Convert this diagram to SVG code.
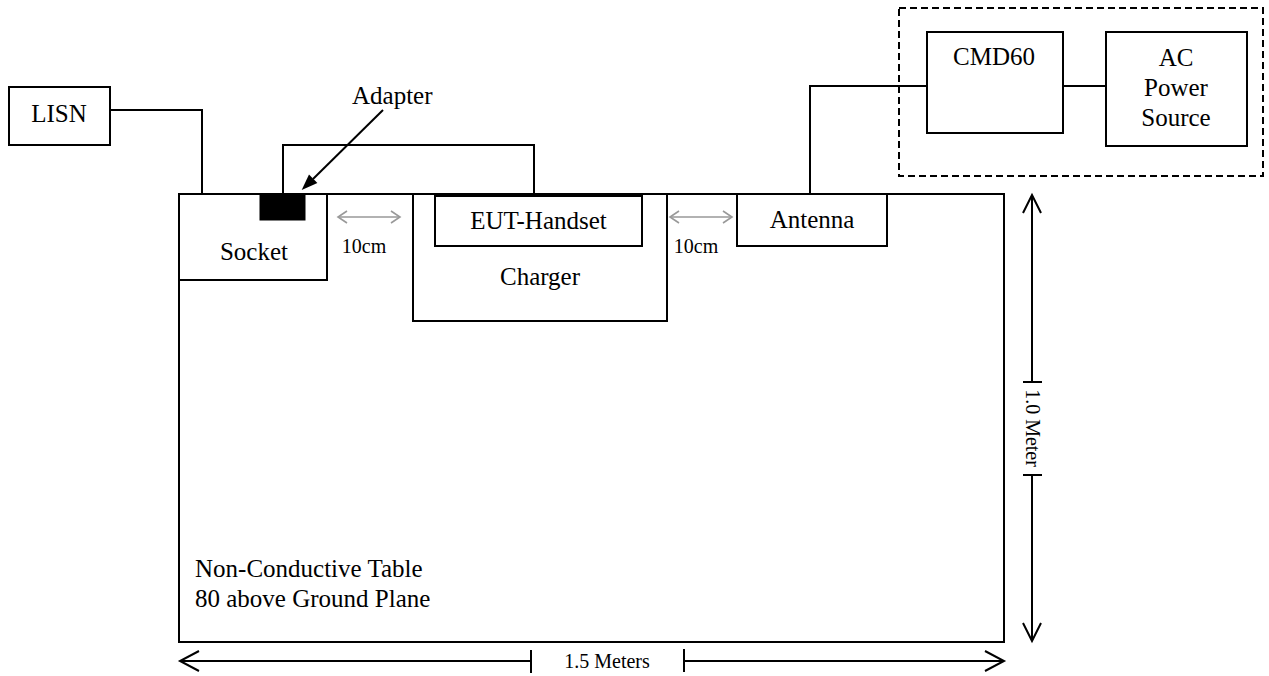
<svg xmlns="http://www.w3.org/2000/svg" width="1269" height="676" viewBox="0 0 1269 676">
<style>
.box{fill:#fff;stroke:#000;stroke-width:2}
.ln{fill:none;stroke:#000;stroke-width:2}
.gray{fill:none;stroke:#999;stroke-width:1.6}
.t{font-family:"Liberation Serif","Times New Roman",serif;fill:#000;font-size:25px}
.m{text-anchor:middle}
.s20{font-size:20px}
</style>
<rect width="1269" height="676" fill="#fff"/>
<g id="table">
<rect class="box" x="179" y="194" width="825" height="448"/>
<text class="t" x="195" y="577">Non-Conductive Table</text>
<text class="t" x="195" y="607">80 above Ground Plane</text>
</g>
<g id="equipment-frame">
<rect x="899" y="8" width="364" height="168" fill="none" stroke="#000" stroke-width="2" stroke-dasharray="7 4"/>
</g>
<g id="connectors">
<polyline class="ln" points="110,110 202,110 202,194"/>
<polyline class="ln" points="283,194 283,145 534,145 534,194"/>
<polyline class="ln" points="810,194 810,86 927,86"/>
<line class="ln" x1="1063" y1="86" x2="1106" y2="86"/>
<line class="ln" x1="383" y1="110" x2="313" y2="179"/>
<polygon points="301.7,190 317.4,183.1 309,174.5" fill="#000"/>
<g class="gray">
<line x1="338" y1="217" x2="400" y2="217"/>
<polyline points="347,211 338,217 347,223"/>
<polyline points="391,211 400,217 391,223"/>
<line x1="670" y1="217" x2="732" y2="217"/>
<polyline points="679,211 670,217 679,223"/>
<polyline points="723,211 732,217 723,223"/>
</g>
</g>
<g id="dimensions">
<line class="ln" x1="180" y1="661" x2="531" y2="661"/>
<line class="ln" x1="531" y1="650" x2="531" y2="673"/>
<line class="ln" x1="684" y1="661" x2="1004" y2="661"/>
<line class="ln" x1="684" y1="649" x2="684" y2="672"/>
<path class="ln" d="M199,651 L180,661 L199,671" stroke-width="2.5"/>
<path class="ln" d="M985,651 L1004,661 L985,671" stroke-width="2.5"/>
<text class="t s20 m" x="607" y="668">1.5 Meters</text>
<line class="ln" x1="1032" y1="195" x2="1032" y2="382"/>
<line class="ln" x1="1023" y1="382" x2="1042" y2="382"/>
<line class="ln" x1="1032" y1="475" x2="1032" y2="641"/>
<line class="ln" x1="1023" y1="475" x2="1042" y2="475"/>
<path class="ln" d="M1023,213 L1032,195 L1041,213" stroke-width="2.5"/>
<path class="ln" d="M1023,623 L1032,641 L1041,623" stroke-width="2.5"/>
<text class="t s20 m" transform="translate(1026,428) rotate(90)">1.0 Meter</text>
</g>
<g id="lisn">
<rect class="box" x="9" y="87" width="101" height="58"/>
<text class="t m" x="59" y="122">LISN</text>
</g>
<g id="socket">
<rect class="box" x="179" y="194" width="148" height="86"/>
<text class="t m" x="254" y="260" font-size="23">Socket</text>
</g>
<g id="adapter">
<rect x="260" y="194" width="45" height="26" fill="#000" stroke="#000" stroke-width="1"/>
<text class="t" x="352" y="104">Adapter</text>
</g>
<g id="charger">
<rect class="box" x="413" y="194" width="254" height="127"/>
<text class="t m" x="540" y="285" font-size="28">Charger</text>
</g>
<g id="eut-handset">
<rect class="box" x="435" y="196" width="207" height="50"/>
<text class="t m" x="538.5" y="229">EUT-Handset</text>
</g>
<g id="antenna">
<rect class="box" x="737" y="194" width="150" height="52"/>
<text class="t m" x="812" y="228">Antenna</text>
</g>
<g id="cmd60">
<rect class="box" x="927" y="32" width="136" height="101"/>
<text class="t m" x="994" y="65">CMD60</text>
</g>
<g id="ac-power-source">
<rect class="box" x="1106" y="32" width="141" height="114"/>
<text class="t m" x="1176" y="66">AC</text>
<text class="t m" x="1176" y="96">Power</text>
<text class="t m" x="1176" y="126">Source</text>
</g>
<g id="spacing-labels">
<text class="t s20 m" x="364" y="253">10cm</text>
<text class="t s20 m" x="696" y="253">10cm</text>
</g>
</svg>
